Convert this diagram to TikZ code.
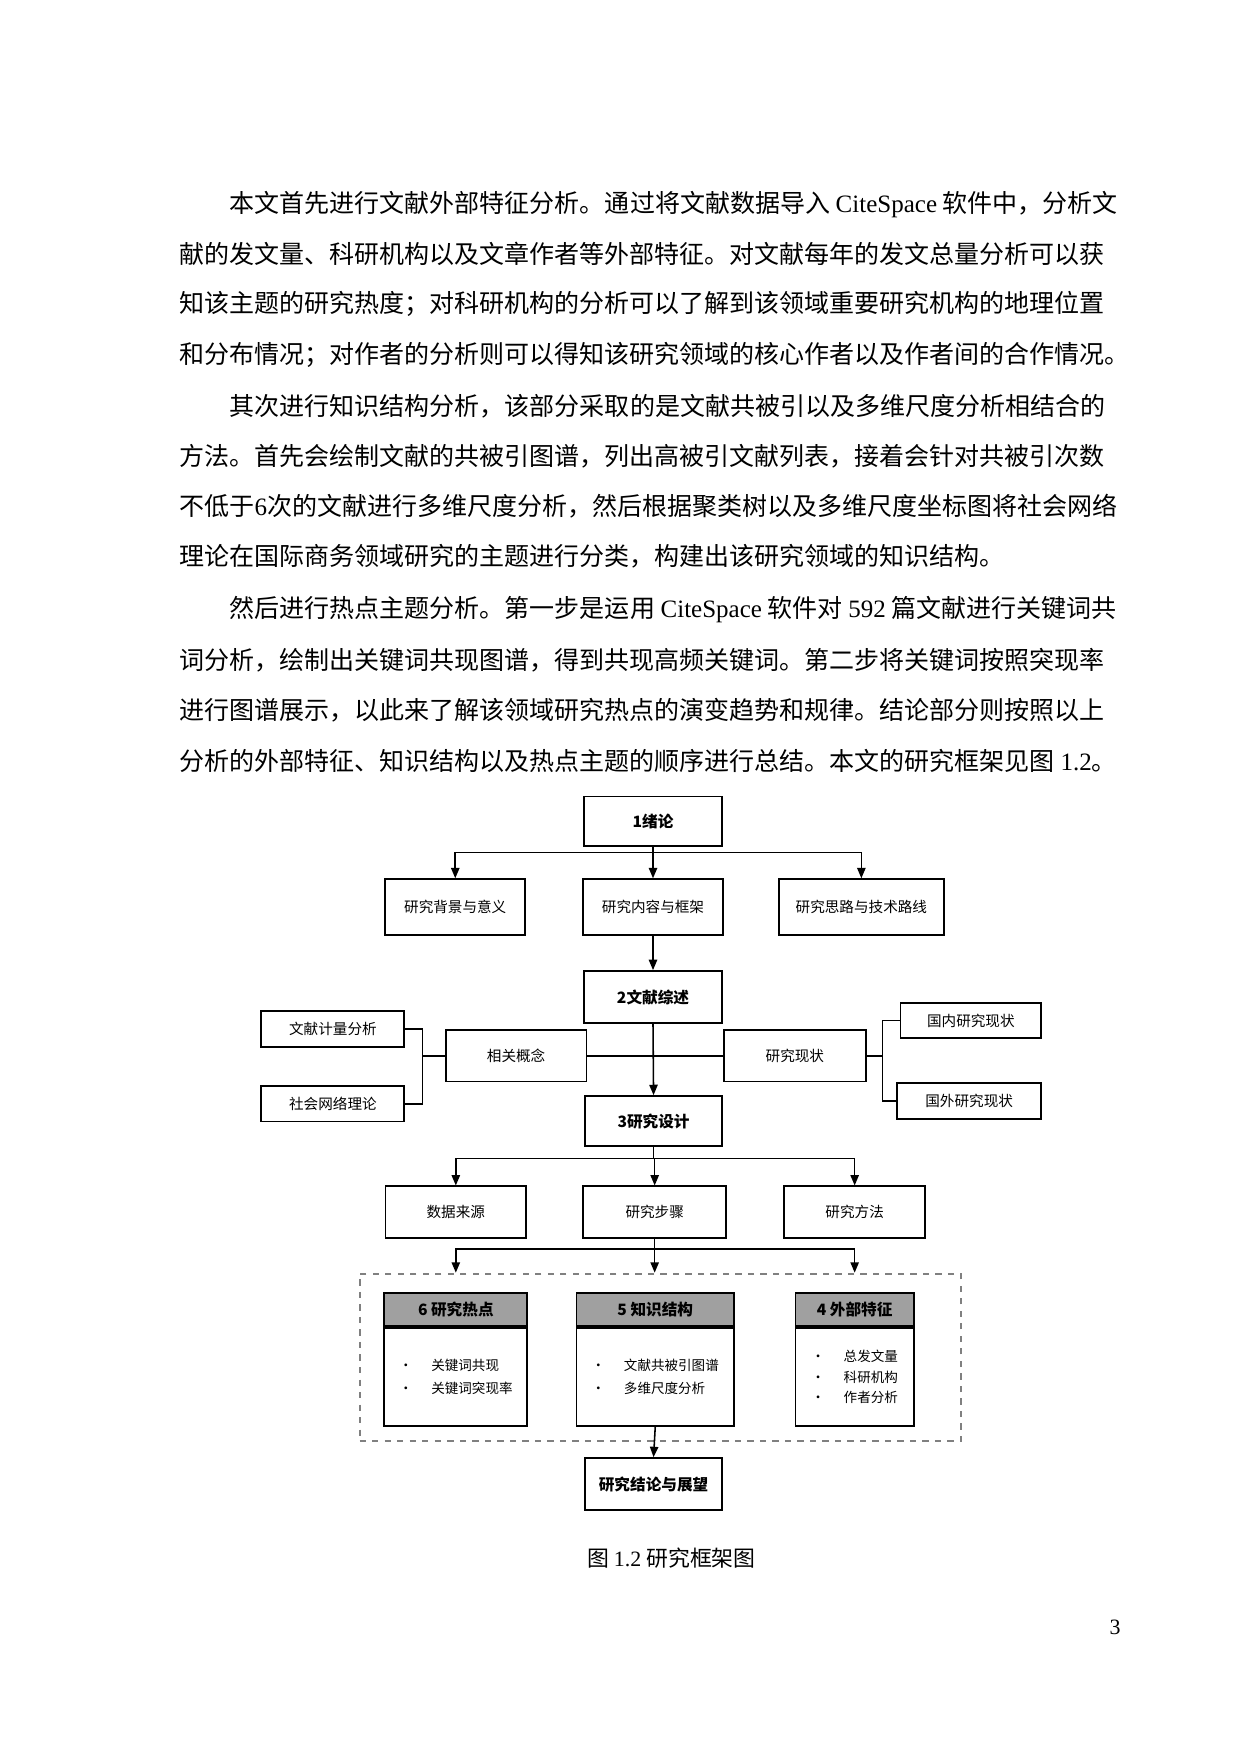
\documentclass[tikz,border=0pt]{standalone}
\usepackage{fontspec}
\setmainfont{Noto Sans CJK SC}
\newfontfamily\lat{Liberation Serif}
\usetikzlibrary{positioning,arrows.meta}

\tikzset{every picture/.style={line width=0.75pt}}
\tikzset{
  para/.style={anchor=west, inner sep=0pt, font=\fontsize{12}{12}\selectfont},
  box/.style={draw, line width=0.9pt, inner sep=1pt, font=\fontsize{7}{8}\selectfont},
  small/.style={box, minimum height=17pt},
  head/.style={draw, line width=0.9pt, fill={rgb,255:red,160;green,160;blue,160}, minimum height=16pt, inner sep=1pt, font=\bfseries\fontsize{7.5}{8}\selectfont},
  body/.style={draw, line width=0.9pt, minimum height=47pt, inner sep=1pt, align=left, font=\fontsize{6.5}{11}\selectfont},
  arr/.style={-{Triangle[length=5pt,width=4pt]}},
}

\begin{document}
\begin{tikzpicture}[x=0.536pt,y=-0.536pt]
  \useasboundingbox (0,0) rectangle (1110,1570);

  % text of the page
  \node[para] (t1) at (205,183) {本文首先进行文献外部特征分析。通过将文献数据导入 {\lat CiteSpace} 软件中，分析文};
  \node[para] (t2) at (160,227) {献的发文量、科研机构以及文章作者等外部特征。对文献每年的发文总量分析可以获};
  \node[para] (t3) at (160,272) {知该主题的研究热度；对科研机构的分析可以了解到该领域重要研究机构的地理位置};
  \node[para] (t4) at (160,318) {和分布情况；对作者的分析则可以得知该研究领域的核心作者以及作者间的合作情况。};
  \node[para] (t5) at (205,364) {其次进行知识结构分析，该部分采取的是文献共被引以及多维尺度分析相结合的};
  \node[para] (t6) at (160,408) {方法。首先会绘制文献的共被引图谱，列出高被引文献列表，接着会针对共被引次数};
  \node[para] (t7) at (160,453) {不低于{\lat 6}次的文献进行多维尺度分析，然后根据聚类树以及多维尺度坐标图将社会网络};
  \node[para] (t8) at (160,498) {理论在国际商务领域研究的主题进行分类，构建出该研究领域的知识结构。};
  \node[para] (t9) at (205,546) {然后进行热点主题分析。第一步是运用 {\lat CiteSpace} 软件对 {\lat 592} 篇文献进行关键词共};
  \node[para] (t10) at (160,591) {词分析，绘制出关键词共现图谱，得到共现高频关键词。第二步将关键词按照突现率};
  \node[para] (t11) at (160,636) {进行图谱展示，以此来了解该领域研究热点的演变趋势和规律。结论部分则按照以上};
  \node[para] (t12) at (160,681) {分析的外部特征、知识结构以及热点主题的顺序进行总结。本文的研究框架见图 {\lat 1.2}。};

  % chapter 1
  \node[box, minimum width=66pt, minimum height=23.6pt, font=\bfseries\fontsize{7.5}{8}\selectfont] (c1) at (584.5,735) {1绪论};
  \node[box, minimum width=67pt, minimum height=26.8pt] (bg) at (407.5,812) {研究背景与意义};
  \node[box, minimum width=67pt, minimum height=26.8pt] (ct) at (584.5,812) {研究内容与框架};
  \node[box, minimum width=79pt, minimum height=26.8pt] (rt) at (771,812) {研究思路与技术路线};
  \coordinate (j1) at (584.5,763);
  \draw[arr] (c1.south) -- (ct.north);
  \draw[arr] (j1) -| (bg.north);
  \draw[arr] (j1) -| (rt.north);

  % chapter 2
  \node[box, minimum width=66pt, minimum height=25pt, font=\bfseries\fontsize{7.5}{8}\selectfont] (c2) at (584.5,892.5) {2文献综述};
  \node[box, minimum width=67.5pt, minimum height=24.7pt] (gn) at (462,945) {相关概念};
  \node[box, minimum width=68pt, minimum height=24.7pt] (xz) at (711.5,945) {研究现状};
  \node[small, minimum width=68.6pt] (jl) at (298,921) {文献计量分析};
  \node[small, minimum width=68.6pt] (sh) at (298,988) {社会网络理论};
  \node[small, minimum width=67.5pt] (gnx) at (869,913.5) {国内研究现状};
  \node[small, minimum width=69pt] (gwx) at (867.5,985.5) {国外研究现状};
  \draw[arr] (ct.south) -- (c2.north);
  \draw (gn.east) -- (xz.west);
  \coordinate (jl1) at (378,945);
  \coordinate (jr1) at (790,945);
  \draw (gn.west) -- (jl1);
  \draw (jl.east) -| (jl1) |- (sh.east);
  \draw (xz.east) -- (jr1);
  \draw (gnx.west) -| (jr1) |- (gwx.west);

  % chapter 3
  \node[box, minimum width=65.4pt, minimum height=24pt, font=\bfseries\fontsize{7.5}{8}\selectfont] (c3) at (585,1003.5) {3研究设计};
  \draw[arr] (c2.south) -- (c3.north);
  \node[box, minimum width=67.5pt, minimum height=24.7pt] (sj) at (408,1085) {数据来源};
  \node[box, minimum width=68.6pt, minimum height=24.7pt] (bz) at (586,1085) {研究步骤};
  \node[box, minimum width=67.5pt, minimum height=24.7pt] (ff) at (765,1085) {研究方法};
  \coordinate (j3) at (586,1037);
  \draw (c3.south) -- (c3.south |- j3);
  \draw[arr] (j3) -| (sj.north);
  \draw[arr] (j3) -- (bz.north);
  \draw[arr] (j3) -| (ff.north);

  % analysis chapters
  \node[draw, dashed, gray, line width=0.9pt, minimum width=288.4pt, minimum height=80.4pt] (grp) at (591,1215) {};
  \node[head, minimum width=68.6pt] (h6) at (408,1172) {6 研究热点};
  \node[body, minimum width=68.6pt, anchor=north] (b6) at (h6.south) {\textbullet\hspace{9pt}关键词共现\\\textbullet\hspace{9pt}关键词突现率};
  \node[head, minimum width=75.6pt] (h5) at (586.5,1172) {5 知识结构};
  \node[body, minimum width=75.6pt, anchor=north] (b5) at (h5.south) {\textbullet\hspace{9pt}文献共被引图谱\\\textbullet\hspace{9pt}多维尺度分析};
  \node[head, minimum width=56.8pt] (h4) at (765,1172) {4 外部特征};
  \node[body, minimum width=56.8pt, anchor=north, font=\fontsize{6.5}{10}\selectfont] (b4) at (h4.south) {\textbullet\hspace{9pt}总发文量\\\textbullet\hspace{9pt}科研机构\\\textbullet\hspace{9pt}作者分析};
  \coordinate (j4) at (586,1118);
  \draw (bz.south) -- (j4);
  \draw[arr] (j4) -| (h6.north |- grp.north);
  \draw[arr] (j4) -- (bz.south |- grp.north);
  \draw[arr] (j4) -| (h4.north |- grp.north);

  % conclusion
  \node[box, minimum width=65.4pt, minimum height=25pt, font=\bfseries\fontsize{7.5}{8}\selectfont] (c7) at (585,1328.5) {研究结论与展望};
  \draw[arr] (b5.south) -- (c7.north);

  \node[font=\fontsize{10.5}{11}\selectfont] (cap) at (601,1395) {图 {\lat 1.2} 研究框架图};
  \node[font=\lat\fontsize{10.5}{11}\selectfont] (pg) at (998,1457) {3};
\end{tikzpicture}
\end{document}
